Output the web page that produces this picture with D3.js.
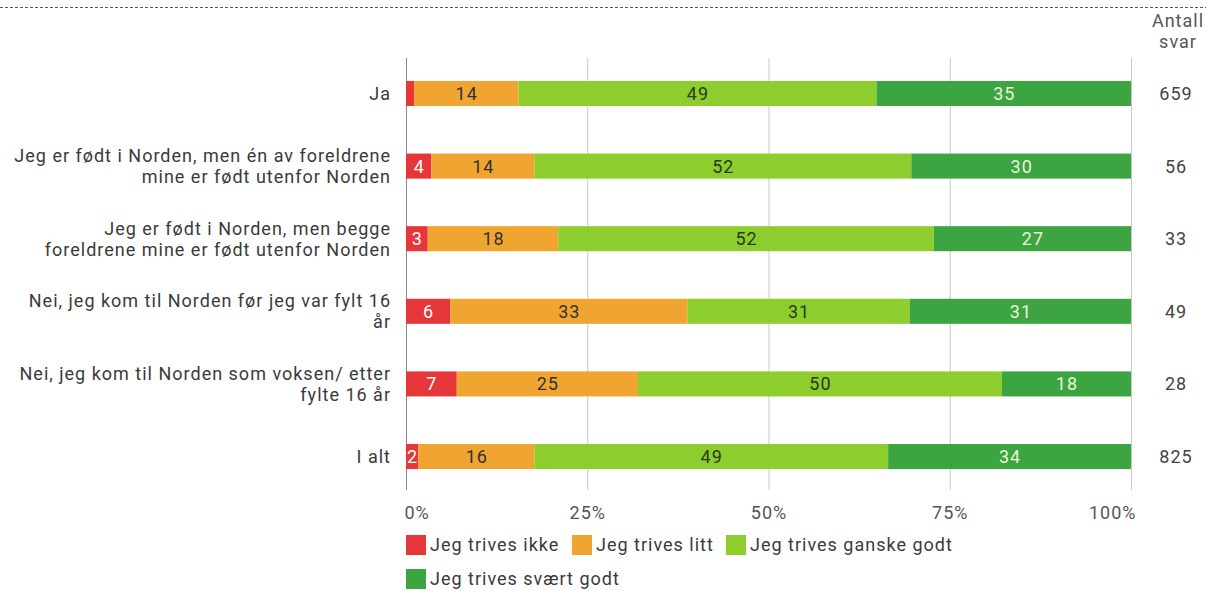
<!DOCTYPE html>
<html><head><meta charset="utf-8">
<script src="https://cdn.jsdelivr.net/npm/d3@7"></script>
<style>body{margin:0;background:#fff}svg{display:block;font-family:Roboto,sans-serif}svg text{letter-spacing:1px}</style>
</head><body><svg id="c" width="1206" height="591"></svg>
<script>
const categories = [
  ["Ja"],
  ["Jeg er født i Norden, men én av foreldrene","mine er født utenfor Norden"],
  ["Jeg er født i Norden, men begge","foreldrene mine er født utenfor Norden"],
  ["Nei, jeg kom til Norden før jeg var fylt 16","år"],
  ["Nei, jeg kom til Norden som voksen/ etter","fylte 16 år"],
  ["I alt"]
];
const seriesNames = ["Jeg trives ikke","Jeg trives litt","Jeg trives ganske godt","Jeg trives svært godt"];
const ikke   = [1.1, 3.5, 3.0, 6.1, 7.0, 1.7];
const litt   = [14.4, 14.2, 18.0, 32.7, 25.0, 16.0];
const ganske = [49.4, 52.0, 51.8, 30.7, 50.2, 48.8];
const svaert = [35.1, 30.3, 27.2, 30.5, 17.8, 33.5];
const antall = [659, 56, 33, 49, 28, 825];
const xTicks = [0, 25, 50, 75, 100];

const colors = ["#e5373a","#f0a531","#8dcd2d","#3ca440"];
const textColors = ["#ffffff","#333333","#2a3a1a","#e6f5dc"];
const FS = 18;

const svg = d3.select("#c");
const x = d3.scaleLinear().domain([0,100]).range([406,1131]);
const y = d3.scaleBand().domain(d3.range(categories.length)).range([57,493]).paddingInner(0.655).paddingOuter(0.33);

// top dashed line
svg.append("line").attr("x1",0).attr("x2",1206).attr("y1",7.5).attr("y2",7.5)
  .attr("stroke","#555").attr("stroke-dasharray","3,2").attr("stroke-width",1);

// grid
const gridTop = 58, gridBot = 490;
svg.append("g").selectAll("line").data(xTicks).join("line")
  .attr("x1",d=>x(d)+0.5).attr("x2",d=>x(d)+0.5).attr("y1",gridTop).attr("y2",gridBot)
  .attr("stroke",d=>d===0?"#888":"#c8c8c8").attr("stroke-width",1);

// axis labels
const axis = d3.axisBottom(x).tickValues(xTicks).tickFormat(d=>d+"%").tickSize(0).tickPadding(0);
const ag = svg.append("g").attr("transform","translate(0,519)").call(axis);
ag.select(".domain").remove();
ag.selectAll("text").attr("font-size",FS).attr("fill","#555").attr("font-family","Roboto,sans-serif").attr("dy","0")
  .attr("text-anchor",d=>d===0?"start":(d===100?"end":"middle"))
  .attr("dx",d=>d===0?-2:(d===100?5:0));

// stacked data
const rows = categories.map((c,i)=>({i, vals:[ikke[i],litt[i],ganske[i],svaert[i]]}));
const segs = [];
rows.forEach(r=>{let acc=0; r.vals.forEach((v,k)=>{segs.push({i:r.i,k,v,x0:acc,x1:acc+v}); acc+=v;});});

const bh = y.bandwidth();
svg.append("g").selectAll("rect").data(segs).join("rect")
  .attr("x",d=>x(d.x0)).attr("width",d=>x(d.x1)-x(d.x0))
  .attr("y",d=>y(d.i)).attr("height",bh).attr("fill",d=>colors[d.k]);

svg.append("g").selectAll("text").data(segs.filter(d=>x(d.x1)-x(d.x0)>10)).join("text")
  .attr("x",d=>(x(d.x0)+x(d.x1))/2+0.5).attr("y",d=>y(d.i)+bh/2).attr("dy","0.36em")
  .attr("text-anchor","middle").attr("font-size",FS).attr("fill",d=>textColors[d.k])
  .text(d=>Math.round(d.v));

// category labels
const cl = svg.append("g").selectAll("text").data(categories).join("text")
  .attr("x",391).attr("text-anchor","end").attr("font-size",FS).attr("fill","#3a3a3a")
  .attr("y",(d,i)=>y(i)+bh/2 - (d.length-1)*10.5);
cl.selectAll("tspan").data(d=>d).join("tspan").attr("x",391).attr("dy",(d,j)=>j===0?"0.36em":"21").text(d=>d);

// antall
svg.append("text").attr("x",1178).attr("y",27).attr("text-anchor","middle").attr("font-size",FS).attr("fill","#555").text("Antall");
svg.append("text").attr("x",1178).attr("y",48).attr("text-anchor","middle").attr("font-size",FS).attr("fill","#555").text("svar");
svg.append("g").selectAll("text").data(antall).join("text")
  .attr("x",1176).attr("y",(d,i)=>y(i)+bh/2).attr("dy","0.36em").attr("text-anchor","middle")
  .attr("font-size",FS).attr("fill","#444").text(d=>d);

// legend
const legPos = [[406,545],[572,545],[726,545],[406,579]];
const lg = svg.append("g").selectAll("g").data(seriesNames).join("g")
  .attr("transform",(d,i)=>`translate(${legPos[i][0]},${legPos[i][1]})`);
lg.append("rect").attr("x",0).attr("y",-10).attr("width",20).attr("height",20).attr("fill",(d,i)=>colors[i]);
lg.append("text").attr("x",24).attr("y",0).attr("dy","0.36em").attr("font-size",FS).attr("fill","#3a3a3a").text(d=>d);
</script></body></html>
